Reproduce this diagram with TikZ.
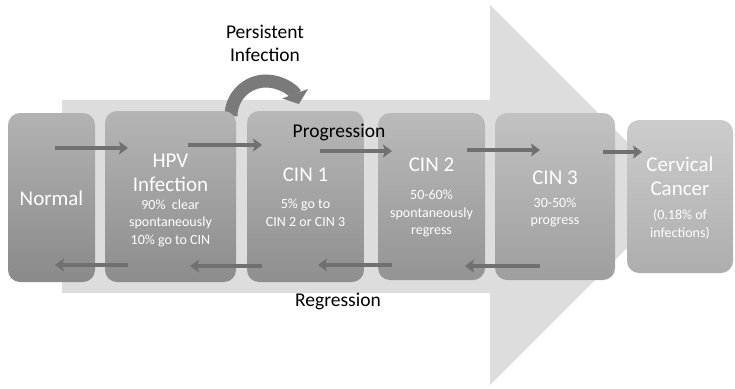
\documentclass[tikz,border=0pt]{standalone}
\usepackage{fontspec}
\setmainfont{Carlito}
\usetikzlibrary{arrows.meta}
\definecolor{bigarrow}{HTML}{DDDDDD}
\definecolor{arrowgray}{HTML}{707070}
\definecolor{curvegray}{HTML}{7A7A7A}
\begin{document}
\begin{tikzpicture}[x=1pt,y=-1pt,
  stage/.style={rounded corners=12pt, inner sep=0pt, draw=none},
  title/.style={text=white, font=\fontsize{21}{24}\selectfont, align=center},
  note/.style={text=white, font=\fontsize{14}{17.5}\selectfont, align=center},
  flow/.style={draw=arrowgray, line width=3.2pt, -{Stealth[length=9pt,width=13pt,inset=2pt]}},
  lbl/.style={font=\fontsize{19.5}{23}\selectfont, text=black, align=center}]
\useasboundingbox (0,0) rectangle (735,388);
% big background arrow
\fill[bigarrow] (62,100) -- (490,100) -- (490,5) -- (680,195) -- (490,385) -- (490,293) -- (62,293) -- cycle;
% persistent infection curved arrow
\coordinate (pstart) at (231,116);
\draw[curvegray, line width=13pt, -{Triangle[length=11pt,width=27pt]}]
  (pstart) arc[start angle=180, end angle=20, radius=35pt] coordinate (pend);
% stage boxes
\node[stage, minimum width=87pt, minimum height=169pt, top color=black!30, bottom color=black!46] (normal) at (51.5,197.5) {};
\node[stage, minimum width=131pt, minimum height=171pt, top color=black!29, bottom color=black!45] (hpv) at (170.5,196.5) {};
\node[stage, minimum width=117pt, minimum height=171pt, top color=black!28, bottom color=black!44] (cin1) at (305.5,196.5) {};
\node[stage, minimum width=107pt, minimum height=167pt, top color=black!27, bottom color=black!42] (cin2) at (431.5,196.5) {};
\node[stage, minimum width=120pt, minimum height=167pt, top color=black!24, bottom color=black!38] (cin3) at (555,196.5) {};
\node[stage, minimum width=106pt, minimum height=153pt, top color=black!20, bottom color=black!32] (cancer) at (680,196.5) {};
% texts
\node[title] (tnormal) at (51.5,198) {Normal};
\node[title] (thpv) at (170.5,172.5) {HPV\\Infection};
\node[note] (nhpv) at (170.5,223) {90\%\ \ clear\\spontaneously\\10\% go to CIN};
\node[title] (tcin1) at (305.5,175) {CIN 1};
\node[note] (ncin1) at (305.5,213) {5\% go to\\CIN 2 or CIN 3};
\node[title] (tcin2) at (431.5,165) {CIN 2};
\node[note] (ncin2) at (431.5,213.5) {50-60\%\\spontaneously\\regress};
\node[title] (tcin3) at (555,178) {CIN 3};
\node[note] (ncin3) at (555,212.5) {30-50\%\\progress};
\node[title] (tcancer) at (680,176.5) {Cervical\\Cancer};
\node[note] (ncancer) at (680,224.5) {(0.18\% of\\infections)};
\node[lbl] (persist) at (265,43) {Persistent\\Infection};
\node[lbl] (prog) at (339,132) {Progression};
\node[lbl] (regr) at (338,301) {Regression};
% forward arrows
\coordinate (f1s) at (55,148);  \coordinate (f1e) at (128,148);
\coordinate (f2s) at (188,145); \coordinate (f2e) at (262,145);
\coordinate (f3s) at (320,151); \coordinate (f3e) at (392,151);
\coordinate (f4s) at (467,150); \coordinate (f4e) at (540,150);
\coordinate (f5s) at (603,152); \coordinate (f5e) at (642,152);
\draw[flow] (f1s) -- (f1e);
\draw[flow] (f2s) -- (f2e);
\draw[flow] (f3s) -- (f3e);
\draw[flow] (f4s) -- (f4e);
\draw[flow] (f5s) -- (f5e);
% backward arrows
\coordinate (b1s) at (128,265); \coordinate (b1e) at (55,265);
\coordinate (b2s) at (262,266); \coordinate (b2e) at (190,266);
\coordinate (b3s) at (392,265); \coordinate (b3e) at (318,265);
\coordinate (b4s) at (540,266); \coordinate (b4e) at (465,266);
\draw[flow] (b1s) -- (b1e);
\draw[flow] (b2s) -- (b2e);
\draw[flow] (b3s) -- (b3e);
\draw[flow] (b4s) -- (b4e);
\end{tikzpicture}
\end{document}
